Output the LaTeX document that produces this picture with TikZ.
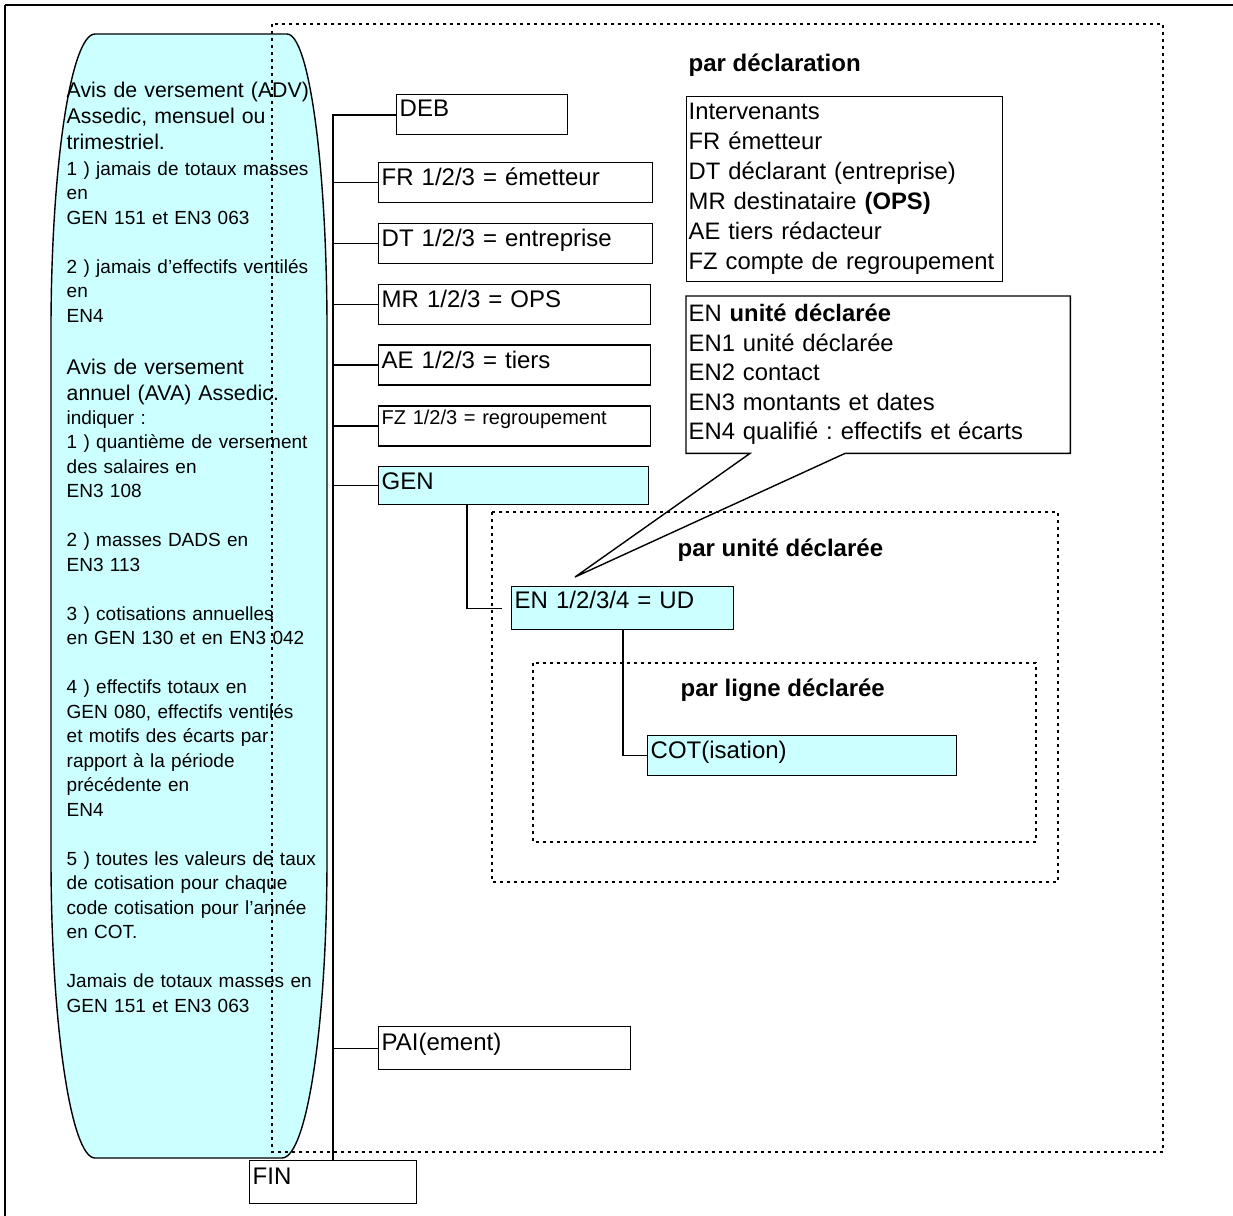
\documentclass[tikz,border=0pt]{standalone}
\usepackage{fontspec}
\setmainfont{Liberation Sans}
\frenchspacing
\usetikzlibrary{positioning}
\definecolor{turq}{RGB}{204,255,255}
\tikzset{
  treebox/.style={draw, rectangle, anchor=north west, inner xsep=1.5pt, inner ysep=0pt, align=left, text height=11.5pt, text depth=8.5pt, font=\fontsize{12}{14}\selectfont},
  udbox/.style={treebox, fill=turq},
  listbox/.style={anchor=north west, inner xsep=1pt, align=left},
  zone/.style={line width=1.35pt, dash pattern=on 1.35pt off 2.15pt},
  zonetitle/.style={anchor=base west, inner sep=0pt, font=\bfseries\fontsize{12}{14}\selectfont},
  notebig/.style={anchor=base west, inner sep=0pt, align=left, text width=150pt, font=\fontsize{10.65}{13}\selectfont},
  notesmall/.style={notebig, font=\fontsize{9.5}{12.25}\selectfont},
}

\begin{document}
\begin{tikzpicture}[x=0.5pt, y=-0.5pt, node distance=9.7pt, line width=0.7pt]
    \useasboundingbox (0,0) rectangle (1233,1216);
    \draw[line width=1.2pt] (1233,5) -- (5,5);
    \draw[line width=0.7pt] (5,5) -- (5,1216);

    % note on the left
    \draw[line width=0.7pt, fill=turq] (95,34) -- (287,34) .. controls (309,34) and (327,166) .. (327,330) -- (327,858) .. controls (327,1024) and (307,1158) .. (282,1158) -- (95,1158) .. controls (71,1158) and (51,1024) .. (51,858) -- (51,330) .. controls (51,166) and (71,34) .. (95,34) -- cycle;
    \node[notebig] (adv) at (66,97) {Avis de versement (ADV)\\Assedic, mensuel ou\\trimestriel.};
    \node[notesmall] (advnote) at (66,175) {1 ) jamais de totaux masses\\en\\GEN 151 et EN3 063\\[12.25pt]2 ) jamais d’effectifs ventilés\\en\\EN4};
    \node[notebig] (ava) at (66,374) {Avis de versement\\annuel (AVA) Assedic.};
    \node[notesmall] (avanote) at (66,424) {indiquer :\\1 ) quantième de versement\\des salaires en\\EN3 108\\[12.25pt]2 ) masses DADS en\\EN3 113\\[12.25pt]3 ) cotisations annuelles\\en GEN 130 et en EN3 042\\[12.25pt]4 ) effectifs totaux en\\GEN 080, effectifs ventilés\\et motifs des écarts par\\rapport à la période\\précédente en\\EN4\\[12.25pt]5 ) toutes les valeurs de taux\\de cotisation pour chaque\\code cotisation pour l’année\\en COT.\\[12.25pt]Jamais de totaux masses en\\GEN 151 et EN3 063};

    % zones
    \draw[zone] (272,24) rectangle (1163,1152);
    \draw[zone] (492,512) rectangle (1058,882);
    \draw[zone] (533,663) rectangle (1036,842);
    \node[zonetitle] (declt) at (688,71.5) {par déclaration};
    \node[zonetitle] (udt) at (677,556.5) {par unité déclarée};
    \node[zonetitle] (ldt) at (680,696.5) {par ligne déclarée};

    % segments
    \node[treebox, text width=82.5pt, text height=11pt, text depth=9pt] (deb) at (396,94) {DEB};
    \node[treebox, text width=134pt] (fr) at (378,162) {FR 1/2/3 = émetteur};
    \node[treebox, text width=134pt, below=of fr.south west, anchor=north west] (dt) {DT 1/2/3 = entreprise};
    \node[treebox, text width=133pt, below=of dt.south west, anchor=north west] (mr) {MR 1/2/3 = OPS};
    \node[treebox, text width=133pt, below=of mr.south west, anchor=north west] (ae) {AE 1/2/3 = tiers};
    \node[treebox, text width=133pt, below=of ae.south west, anchor=north west, font=\fontsize{10}{12}\selectfont, text height=9.5pt, text depth=10.5pt] (fz) {FZ 1/2/3 = regroupement};
    \node[udbox, text width=132pt, below=of fz.south west, anchor=north west, text height=11.3pt, text depth=7.7pt] (gen) {GEN};
    \node[treebox, text width=123pt, text height=12pt, text depth=9.5pt] (pai) at (378,1026) {PAI(ement)};
    \node[treebox, text width=80.5pt, text height=12pt, text depth=9.5pt] (fin) at (249,1160) {FIN};
    \node[udbox, text width=108pt, text height=11pt, text depth=10.5pt] (en) at (511,586) {EN 1/2/3/4 = UD};
    \node[udbox, text width=151.5pt] (cot) at (647,735) {COT(isation)};

    \draw[line width=0.85pt] (fin.north) |- (deb.west);
    \foreach \seg in {fr,dt,mr,ae,fz,gen,pai}
        \draw (\seg.west) -- (\seg.west -| fin.north);
    \draw ([xshift=44.5pt]gen.south west) |- ([xshift=-4.5pt]en.west);
    \draw ([xshift=56pt]en.south west) |- (cot.west);

    % lists
    \node[listbox, draw, text width=156pt, minimum height=92.5pt, font=\fontsize{11.9}{15}\selectfont] (interv) at (686,96) {Intervenants\\FR émetteur\\DT déclarant (entreprise)\\MR destinataire \textbf{(OPS)}\\AE tiers rédacteur\\FZ compte de regroupement};
    \node[listbox, text width=189.5pt, minimum height=78pt, font=\fontsize{11.9}{14.75}\selectfont] (enlist) at (686,296) {EN \textbf{unité déclarée}\\EN1 unité déclarée\\EN2 contact\\EN3 montants et dates\\EN4 qualifié : effectifs et écarts};
    \coordinate (udpoint) at (575,577);
    \draw (enlist.south west) -- ([xshift=32pt]enlist.south west) -- (udpoint) -- ([xshift=79.5pt]enlist.south west) -- (enlist.south east) -- (enlist.north east) -- (enlist.north west) -- cycle;
\end{tikzpicture}
\end{document}
